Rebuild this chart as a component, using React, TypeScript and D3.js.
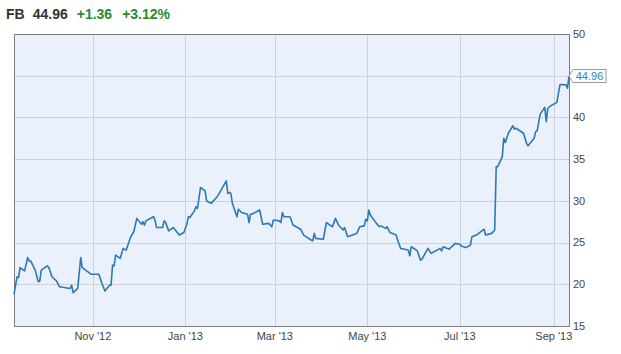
import { useEffect, useRef } from 'react'
import * as d3 from 'd3'

const SYMBOL = 'FB'
const LAST = '44.96'
const CHANGE = '+1.36'
const CHANGE_PCT = '+3.12%'

const dates = [
  '2012-09-10', '2012-09-12', '2012-09-13', '2012-09-14', '2012-09-17', '2012-09-19', '2012-09-20', '2012-09-21',
  '2012-09-24', '2012-09-26', '2012-09-27', '2012-09-28', '2012-10-02', '2012-10-03', '2012-10-05', '2012-10-08',
  '2012-10-10', '2012-10-17', '2012-10-18', '2012-10-19', '2012-10-22', '2012-10-24', '2012-10-25', '2012-10-31',
  '2012-11-05', '2012-11-07', '2012-11-09', '2012-11-12', '2012-11-13', '2012-11-14', '2012-11-15', '2012-11-16',
  '2012-11-19', '2012-11-21', '2012-11-23', '2012-11-26', '2012-11-28', '2012-11-30', '2012-12-03', '2012-12-04',
  '2012-12-05', '2012-12-06', '2012-12-10', '2012-12-11', '2012-12-12', '2012-12-13', '2012-12-17', '2012-12-18',
  '2012-12-19', '2012-12-21', '2012-12-24', '2012-12-28', '2012-12-31', '2013-01-02', '2013-01-03', '2013-01-04',
  '2013-01-07', '2013-01-08', '2013-01-09', '2013-01-11', '2013-01-14', '2013-01-15', '2013-01-16', '2013-01-18',
  '2013-01-22', '2013-01-24', '2013-01-28', '2013-01-29', '2013-01-30', '2013-01-31', '2013-02-01', '2013-02-04',
  '2013-02-05', '2013-02-07', '2013-02-11', '2013-02-12', '2013-02-13', '2013-02-15', '2013-02-19', '2013-02-21',
  '2013-02-25', '2013-02-27', '2013-02-28', '2013-03-04', '2013-03-05', '2013-03-06', '2013-03-07', '2013-03-11',
  '2013-03-13', '2013-03-18', '2013-03-20', '2013-03-25', '2013-03-26', '2013-03-27', '2013-03-28', '2013-04-02',
  '2013-04-04', '2013-04-08', '2013-04-10', '2013-04-12', '2013-04-15', '2013-04-16', '2013-04-18', '2013-04-24',
  '2013-04-26', '2013-04-29', '2013-04-30', '2013-05-01', '2013-05-02', '2013-05-03', '2013-05-07', '2013-05-09',
  '2013-05-10', '2013-05-13', '2013-05-14', '2013-05-16', '2013-05-20', '2013-05-21', '2013-05-23', '2013-05-28',
  '2013-05-29', '2013-05-30', '2013-06-03', '2013-06-05', '2013-06-06', '2013-06-10', '2013-06-12', '2013-06-14',
  '2013-06-18', '2013-06-19', '2013-06-20', '2013-06-24', '2013-06-25', '2013-06-28', '2013-07-01', '2013-07-02',
  '2013-07-05', '2013-07-08', '2013-07-09', '2013-07-12', '2013-07-17', '2013-07-18', '2013-07-22', '2013-07-24',
  '2013-07-25', '2013-07-26', '2013-07-29', '2013-07-30', '2013-07-31', '2013-08-02', '2013-08-05', '2013-08-06',
  '2013-08-07', '2013-08-12', '2013-08-14', '2013-08-15', '2013-08-19', '2013-08-20', '2013-08-21', '2013-08-23',
  '2013-08-26', '2013-08-27', '2013-08-28', '2013-08-30', '2013-09-03', '2013-09-05', '2013-09-06', '2013-09-09',
  '2013-09-10', '2013-09-11',
]

const closes = [
  18.8, 20.9, 20.8, 22.0, 21.6, 23.2, 22.8, 22.8,
  21.7, 20.3, 20.4, 21.7, 22.2, 22.0, 20.9, 20.4,
  19.7, 19.5, 19.9, 19.0, 19.5, 23.2, 22.0, 21.2,
  21.2, 20.1, 19.2, 19.9, 19.9, 22.3, 22.2, 23.5,
  23.1, 24.3, 24.1, 25.7, 26.3, 27.9, 27.2, 27.5,
  27.1, 27.6, 28.0, 28.1, 27.7, 26.8, 26.8, 27.6,
  27.4, 26.4, 26.8, 25.9, 26.2, 27.2, 28.1, 28.0,
  28.8, 29.3, 29.1, 31.6, 31.2, 30.0, 29.9, 29.7,
  30.5, 31.1, 32.4, 30.9, 31.0, 30.9, 29.7, 28.1,
  29.0, 28.6, 28.4, 27.4, 28.4, 28.5, 28.9, 27.2,
  27.3, 26.9, 27.7, 27.6, 27.4, 28.6, 28.1, 28.1,
  27.1, 26.6, 25.9, 25.3, 25.2, 26.1, 25.5, 25.4,
  27.4, 26.9, 27.9, 27.1, 26.5, 26.8, 25.7, 26.1,
  26.9, 27.0, 27.8, 27.6, 28.9, 28.3, 27.3, 26.9,
  27.0, 26.7, 26.9, 26.2, 25.9, 25.3, 24.3, 24.1,
  23.4, 24.5, 24.0, 22.9, 23.0, 24.3, 23.7, 23.9,
  24.3, 24.0, 24.5, 24.2, 24.4, 24.9, 24.8, 24.6,
  24.4, 24.7, 25.7, 25.9, 26.6, 25.9, 26.1, 26.5,
  34.1, 34.1, 35.3, 37.5, 37.0, 38.1, 39.0, 38.6,
  38.7, 38.1, 36.9, 36.6, 37.5, 38.3, 38.4, 40.4,
  41.2, 39.5, 41.1, 41.4, 41.8, 43.9, 43.95, 43.9,
  43.5, 44.96,
]

const yTicks = [15, 20, 25, 30, 35, 40, 45, 50]
const xTickDates = ['2012-11-01', '2013-01-01', '2013-03-01', '2013-05-01', '2013-07-01', '2013-09-01']
const xDomain = ['2012-09-10', '2013-09-11']

const W = 621
const H = 354
const LEFT = 14
const RIGHT = 569
const TOP = 34
const BOTTOM = 326
const FONT = '"Liberation Sans", Arial, sans-serif'

export default function App() {
  const svgRef = useRef<SVGSVGElement>(null)

  useEffect(() => {
    if (!svgRef.current) return
    const svg = d3.select(svgRef.current)
    svg.selectAll('*').remove()

    const parse = d3.utcParse('%Y-%m-%d')
    const pts = dates.map((d, i) => ({ date: parse(d) as Date, v: closes[i] }))

    const x = d3.scaleUtc()
      .domain(xDomain.map(d => parse(d) as Date))
      .range([LEFT, RIGHT])
    const y = d3.scaleLinear().domain([15, 50]).range([BOTTOM, TOP])

    // header
    const head = svg.append('text')
      .attr('x', 6)
      .attr('y', 19)
      .attr('font-family', FONT)
      .attr('font-size', 14)
      .attr('font-weight', 700)
    head.append('tspan').attr('fill', '#333').text(SYMBOL)
    head.append('tspan').attr('fill', '#333').attr('dx', 8).text(LAST)
    head.append('tspan').attr('fill', '#2b8a2b').attr('dx', 9).text(CHANGE)
    head.append('tspan').attr('fill', '#2b8a2b').attr('dx', 10).text(CHANGE_PCT)

    // plot background
    svg.append('rect')
      .attr('x', LEFT)
      .attr('y', TOP)
      .attr('width', RIGHT - LEFT)
      .attr('height', BOTTOM - TOP)
      .attr('fill', '#eaf1fc')

    const grid = svg.append('g').attr('stroke', '#cdd1d8').attr('stroke-width', 1)
    yTicks.forEach(t => {
      grid.append('line')
        .attr('x1', LEFT).attr('x2', RIGHT)
        .attr('y1', Math.round(y(t)) + 0.5).attr('y2', Math.round(y(t)) + 0.5)
    })
    xTickDates.forEach(t => {
      const xx = Math.round(x(parse(t) as Date)) + 0.5
      grid.append('line')
        .attr('x1', xx).attr('x2', xx)
        .attr('y1', TOP).attr('y2', BOTTOM)
    })

    // frame
    svg.append('rect')
      .attr('x', LEFT + 0.5)
      .attr('y', TOP + 0.5)
      .attr('width', RIGHT - LEFT)
      .attr('height', BOTTOM - TOP)
      .attr('fill', 'none')
      .attr('stroke', '#7d7d7d')

    // price line
    const line = d3.line<{ date: Date; v: number }>()
      .x(d => x(d.date))
      .y(d => y(d.v))
    svg.append('path')
      .datum(pts)
      .attr('d', line)
      .attr('fill', 'none')
      .attr('stroke', '#2a7ab5')
      .attr('stroke-width', 1.6)
      .attr('stroke-linejoin', 'round')

    // y labels (right)
    svg.append('g')
      .selectAll('text')
      .data(yTicks.filter(t => t !== 45))
      .join('text')
      .attr('x', RIGHT + 4)
      .attr('y', d => y(d))
      .attr('dy', '0.35em')
      .attr('font-family', FONT)
      .attr('font-size', 11)
      .attr('fill', '#444')
      .text(d => String(d))

    // x labels
    const fmt = d3.utcFormat("%b '%y")
    svg.append('g')
      .selectAll('text')
      .data(xTickDates.map(d => parse(d) as Date))
      .join('text')
      .attr('x', d => x(d))
      .attr('y', BOTTOM + 14)
      .attr('text-anchor', 'middle')
      .attr('font-family', FONT)
      .attr('font-size', 11)
      .attr('fill', '#444')
      .text(d => fmt(d))

    // last price tag
    const last = pts[pts.length - 1]
    const lx = x(last.date)
    const ly = y(last.v)
    const tag = svg.append('g')
    tag.append('path')
      .attr('d', `M${lx},${ly} L${lx + 4},${ly - 6.5} H${lx + 37} V${ly + 6.5} H${lx + 4} Z`)
      .attr('fill', '#fff')
      .attr('stroke', '#999')
    tag.append('text')
      .attr('x', lx + 20.5)
      .attr('y', ly)
      .attr('dy', '0.36em')
      .attr('text-anchor', 'middle')
      .attr('font-family', FONT)
      .attr('font-size', 11)
      .attr('fill', '#2f86b8')
      .text(last.v.toFixed(2))
  }, [])

  return (
    <svg
      ref={svgRef}
      width={W}
      height={H}
      style={{ position: 'absolute', left: 0, top: 0, background: '#fff' }}
    />
  )
}
